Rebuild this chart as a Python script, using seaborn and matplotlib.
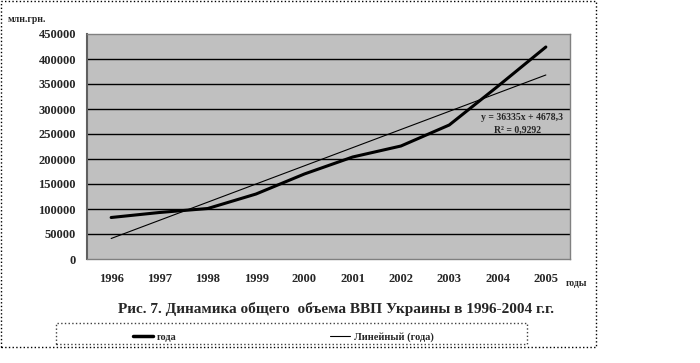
import matplotlib
matplotlib.use("Agg")
import matplotlib.pyplot as plt
import matplotlib.patches as mpatches
from matplotlib.lines import Line2D
import numpy as np
import pandas as pd
import seaborn as sns

years = ["1996", "1997", "1998", "1999", "2000", "2001", "2002", "2003", "2004", "2005"]
gdp = [83000, 93000, 101000, 130000, 170000, 204000, 226000, 268000, 345000, 424000]
slope = 36335
intercept = 4678.3
r2 = "0,9292"
yticks = [0, 50000, 100000, 150000, 200000, 250000, 300000, 350000, 400000, 450000]

df = pd.DataFrame({"year": years, "gdp": gdp})
df["pos"] = np.arange(len(years))
df["trend"] = slope * (df["pos"] + 1) + intercept

sns.set_style("white")
plt.rcParams["font.family"] = ["Liberation Serif", "DejaVu Serif"]
plt.rcParams["font.weight"] = "bold"

fig = plt.figure(figsize=(7, 3.63), dpi=100)
ax = fig.add_axes([87 / 700, 1 - 259 / 363, (570 - 87) / 700, (259 - 34) / 363])
ax.set_facecolor("#c0c0c0")

for v in yticks[1:-1]:
    ax.axhline(v, color="black", linewidth=1.0, zorder=1)

sns.lineplot(data=df, x="pos", y="trend", color="black", linewidth=0.8, ax=ax, zorder=3)
sns.lineplot(data=df, x="pos", y="gdp", color="black", linewidth=2.2, ax=ax, zorder=4)

ax.set_xlim(-0.5, 9.5)
ax.set_ylim(0, 450000)
ax.set_yticks(yticks)
ax.set_yticklabels([str(v) for v in yticks], fontsize=9, fontweight="bold")
ax.set_xticks(np.arange(-0.5, 10, 1))
ax.set_xticklabels([])
ax.set_xticks(np.arange(len(years)), minor=True)
ax.set_xticklabels(years, minor=True, fontsize=9, fontweight="bold")
ax.tick_params(axis="x", which="major", direction="out", length=4, width=1, color="black")
ax.tick_params(axis="x", which="minor", length=0, pad=10)
ax.tick_params(axis="y", direction="out", length=3, width=1, color="black", pad=5)
ax.set_xlabel("")
ax.set_ylabel("")
for side in ["top", "right", "bottom"]:
    ax.spines[side].set_color("#808080")
    ax.spines[side].set_linewidth(1)
ax.spines["left"].set_color("#606060")
ax.spines["left"].set_linewidth(1.5)

ax.text(0.985, 0.63, "y = 36335x + 4678,3", transform=ax.transAxes, ha="right",
        va="center", fontsize=7, fontweight="bold")
ax.text(0.94, 0.57, "R² = " + r2, transform=ax.transAxes, ha="right",
        va="center", fontsize=7, fontweight="bold")

fig.text(8 / 700, 1 - 20 / 363, "млн.грн.", fontsize=7, fontweight="bold", va="center")
fig.text(566 / 700, 1 - 284 / 363, "годы", fontsize=7, fontweight="bold", va="center")
fig.text(336 / 700, 1 - 309 / 363, "Рис. 7. Динамика общего  объема ВВП Украины в 1996-2004 г.г.",
         fontsize=11, fontweight="bold", ha="center", va="center")

# outer frame and legend box
fig.patches.append(mpatches.Rectangle((1 / 700, 1 - 347 / 363), 595 / 700, 346 / 363,
                                      transform=fig.transFigure, fill=False,
                                      linestyle=":", linewidth=1, edgecolor="black"))
fig.patches.append(mpatches.Rectangle((56 / 700, 1 - 344 / 363), 471 / 700, 21 / 363,
                                      transform=fig.transFigure, fill=False,
                                      linestyle=":", linewidth=1, edgecolor="#404040"))
fig.lines.append(Line2D([133 / 700, 153 / 700], [1 - 336 / 363] * 2, transform=fig.transFigure,
                        color="black", linewidth=2.5))
fig.text(157 / 700, 1 - 337 / 363, "года", fontsize=7.5, fontweight="bold", va="center")
fig.lines.append(Line2D([330 / 700, 350 / 700], [1 - 336 / 363] * 2, transform=fig.transFigure,
                        color="black", linewidth=0.8))
fig.text(354 / 700, 1 - 337 / 363, "Линейный (года)", fontsize=7.5, fontweight="bold", va="center")

fig.savefig("out.png", dpi=100)
